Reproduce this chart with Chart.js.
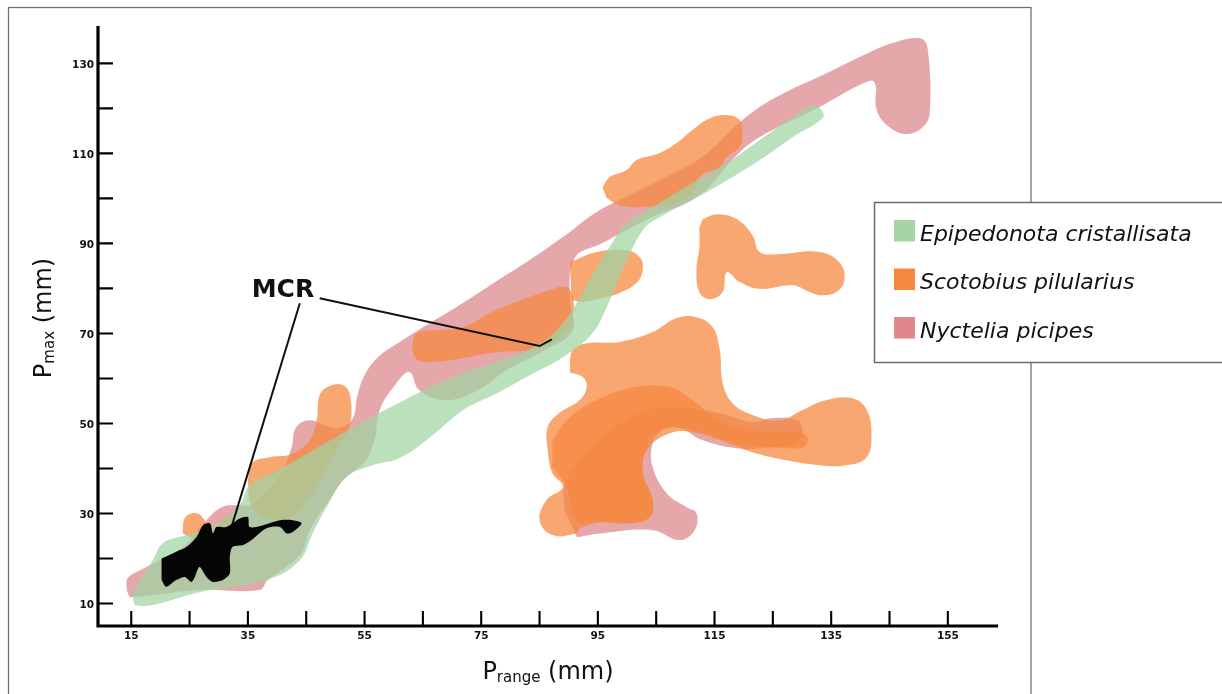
<!DOCTYPE html>
<html>
<head>
<meta charset="utf-8">
<script src="https://cdn.jsdelivr.net/npm/chart.js@4.4.1/dist/chart.umd.min.js"></script>
<style>
  html, body { margin: 0; padding: 0; background: #fff; }
  canvas { display: block; }
</style>
</head>
<body>
<canvas id="myChart" width="1222" height="694"></canvas>
<script>
// axis ticks
const xTicks = [15, 25, 35, 45, 55, 65, 75, 85, 95, 105, 115, 125, 135, 145, 155];
const xTickLabels = ["15", "", "35", "", "55", "", "75", "", "95", "", "115", "", "135", "", "155"];
const yTicks = [10, 20, 30, 40, 50, 60, 70, 80, 90, 100, 110, 120, 130];
const yTickLabels = ["10", "", "30", "", "50", "", "70", "", "90", "", "110", "", "130"];

const species = ["Epipedonota cristallisata", "Scotobius pilularius", "Nyctelia picipes"];

// Epipedonota cristallisata (green) - outline [Prange, Pmax]
const epiBand = [[15.6,9.6],[15.3,12.1],[16.5,15.2],[18.7,19.6],[20.4,23.4],[24.5,25.2],[29.3,27.4],[33.6,31.8],
  [35.3,36.3],[39.6,39.2],[43.9,42.3],[51.9,48.3],[60.5,54.3],[68.4,59.4],[77.7,63.8],[85.0,67.6],[89.0,72.3],
  [91.9,78.0],[94.8,84.7],[97.0,89.2],[99.9,94.5],[105.6,99.0],[111.2,103.4],[117.1,107.8],[122.7,112.9],
  [128.4,118.1],[131.8,120.7],[133.4,119.6],[133.5,117.8],[128.4,113.6],[122.7,108.5],[114.2,101.8],
  [105.6,95.8],[103.0,93.4],[100.4,87.4],[96.5,75.8],[94.1,70.1],[89.0,64.7],[83.3,60.7],[77.7,56.7],
  [71.8,52.9],[66.2,46.9],[61.0,42.3],[56.4,40.7],[51.9,38.1],[48.5,31.4],[46.1,25.6],[43.9,19.6],
  [38.2,15.2],[26.7,12.5],[19.9,10.0],[17.3,9.4]];

// Nyctelia picipes (pink)
const nycBand = [[14.2,13.0],[14.4,15.6],[16.5,17.4],[19.9,19.6],[24.2,22.9],[27.6,28.1],[30.5,31.4],[33.6,31.8],
  [35.3,31.8],[37.4,34.1],[40.5,38.5],[42.5,44.7],[43.2,49.0],[45.6,50.7],[49.9,49.0],[52.8,50.7],[53.8,56.3],
  [55.0,60.7],[57.3,64.7],[60.7,67.8],[66.2,72.3],[71.8,76.7],[77.6,81.6],[83.3,86.3],[89.0,91.4],[94.8,97.0],
  [100.4,100.7],[107.3,105.2],[113.3,109.6],[119.8,117.4],[125.6,122.5],[134.2,127.8],[139.9,131.4],
  [145.5,134.5],[150.2,135.6],[151.5,133.6],[151.9,119.0],[150.7,115.8],[147.9,114.3],[145.0,115.8],
  [142.8,119.6],[142.4,125.8],[139.9,125.2],[133.0,120.3],[122.7,113.6],[118.8,109.6],[112.4,100.7],
  [103.9,95.6],[95.8,90.1],[91.0,86.7],[90.2,77.4],[90.7,70.7],[85.9,66.3],[79.9,62.3],[73.9,57.0],
  [68.7,55.2],[64.4,57.4],[62.7,61.4],[60.2,58.5],[57.6,53.0],[56.7,46.3],[55.0,41.4],[51.6,37.8],
  [49.0,33.0],[45.6,26.3],[43.9,20.7],[38.4,15.2],[37.0,13.0],[26.7,13.0],[18.2,11.8],[14.7,11.4]];
const nycLoop = [[91.4,24.7],[95.8,25.6],[104.4,26.3],[109.0,24.1],[111.6,26.3],[111.9,30.1],[110.2,31.4],
  [106.8,34.5],[104.4,40.3],[104.4,45.6],[106.1,48.5],[109.0,49.0],[112.9,46.3],[118.8,44.5],[125.0,44.7],
  [129.1,45.6],[130.1,48.5],[129.1,50.7],[125.0,51.2],[121.5,50.3],[115.9,52.3],[109.0,53.6],[103.4,53.0],
  [99.6,50.7],[95.3,46.3],[91.9,41.8],[89.3,36.3],[89.3,30.7]];

// Scotobius pilularius (orange)
const scoKnobA = [[23.8,25.6],[24.2,29.0],[25.9,30.1],[27.3,29.0],[27.9,26.3],[25.9,24.1]];
const scoKnobB = [[30.2,28.1],[32.2,29.2],[33.3,26.7],[30.5,25.4]];
const scoStep = [[35.0,37.4],[35.7,41.2],[38.7,42.5],[42.5,43.2],[45.6,46.3],[46.8,50.7],[47.3,56.3],
  [49.0,58.3],[51.3,58.5],[52.5,56.3],[52.5,49.6],[50.7,45.2],[48.5,40.0],[45.5,33.5],[43.0,29.5],
  [40.0,28.6],[37.0,29.6],[35.2,33.0]];
const scoMid = [[63.1,66.3],[63.9,70.1],[67.4,70.7],[71.8,71.4],[77.6,75.2],[83.3,78.1],[86.7,79.6],
  [89.6,80.3],[90.7,78.1],[90.7,73.6],[89.6,70.7],[86.7,67.8],[83.3,66.3],[77.6,65.8],[71.8,64.5],
  [66.2,63.6],[63.9,64.1]];
const scoNotch = [[90.2,85.8],[94.8,88.1],[99.9,88.5],[102.2,86.9],[102.7,84.1],[101.6,81.2],[98.7,79.0],
  [95.8,77.9],[92.4,77.0],[90.5,77.4]];
const scoUpper = [[95.8,102.5],[97.0,104.7],[99.9,106.3],[101.6,108.5],[105.6,110.1],[108.5,112.3],
  [111.2,115.2],[114.2,117.8],[117.1,118.5],[119.3,117.4],[119.8,114.5],[119.3,111.4],[117.1,109.2],
  [115.9,107.0],[112.4,104.8],[111.2,101.2],[108.5,99.0],[102.7,98.1],[98.7,98.5],[96.5,100.1]];
const scoHook = [[113.0,95.4],[115.4,96.5],[118.8,95.4],[121.5,91.8],[122.7,88.1],[125.6,87.6],[133.0,88.1],
  [136.4,85.8],[137.3,82.1],[135.9,79.2],[133.0,78.5],[131.3,79.2],[128.4,80.7],[122.7,79.9],[119.3,81.4],
  [117.1,83.6],[116.4,79.2],[114.2,77.6],[112.4,79.2],[111.9,84.1],[112.4,89.2],[112.4,93.6]];
const scoBig = [[90.2,64.1],[90.7,66.3],[93.1,67.8],[98.7,68.1],[104.4,70.3],[108.5,73.4],[111.9,73.6],
  [114.7,71.4],[115.9,66.3],[116.4,59.0],[118.1,54.5],[121.5,51.9],[126.2,50.7],[130.1,53.0],[134.2,55.2],
  [138.7,55.6],[141.1,53.0],[141.9,47.8],[141.1,42.5],[137.6,40.7],[133.0,40.7],[127.4,41.8],[121.5,43.6],
  [115.9,46.3],[111.2,48.1],[107.3,47.8],[103.4,44.1],[102.7,39.0],[104.4,33.0],[103.9,29.2],[100.4,27.8],
  [95.8,28.1],[91.9,26.7],[91.4,25.6],[87.2,25.2],[85.0,28.5],[86.2,33.0],[89.0,35.9],[87.2,39.0],
  [86.4,44.1],[86.4,49.2],[88.4,52.3],[91.9,55.2],[93.1,58.1],[92.4,60.3],[90.2,61.4]];
const scoInner = [[87.2,46.3],[90.2,51.4],[95.8,55.8],[101.6,58.1],[107.3,58.1],[111.2,55.2],[115.9,50.7],
  [121.5,48.5],[127.4,48.1],[130.1,47.8],[131.0,46.3],[130.1,44.7],[127.4,44.5],[118.8,45.6],[113.6,47.8],
  [109.0,49.2],[105.6,48.5],[103.4,44.7],[102.7,39.0],[104.4,33.0],[103.9,29.2],[100.4,27.8],[95.8,28.1],
  [91.4,28.5],[89.6,35.9],[87.2,40.3]];

// MCR region (black) and its leader lines
const mcr = [[20.2,20.0],[22.7,21.5],[24.5,22.6],[26.2,24.8],[27.3,27.4],[28.5,27.8],[29.0,25.6],[29.6,27.0],
  [31.3,27.0],[33.6,28.9],[35.0,29.2],[35.3,27.0],[37.6,27.4],[40.5,28.5],[42.7,28.5],[44.2,27.8],[42.7,25.9],
  [41.6,25.6],[40.5,27.0],[38.2,26.7],[35.9,24.4],[34.2,23.0],[32.4,22.6],[31.9,20.4],[31.9,16.7],[30.7,15.2],
  [29.0,14.8],[27.9,15.9],[26.7,18.1],[25.9,15.9],[25.3,14.8],[24.2,15.9],[22.7,15.2],[21.0,13.7],[20.2,15.2]];
const leaderA = [[47.3,77.8],[85.0,67.2],[87.1,68.7]];
const leaderB = [[43.9,76.7],[31.9,25.8]];

const GREEN = "rgba(160,212,162,0.72)";
const ORANGE = "rgba(245,136,63,0.74)";
const PINK = "rgba(220,130,136,0.7)";
const legendColors = ["#a6d5a5", "#f5883e", "#df878b"];

const pts = (arr) => arr.map(p => ({ x: p[0], y: p[1] }));
const blob = (arr, color, tension) => ({
  data: pts(arr),
  showLine: true,
  fill: "shape",
  backgroundColor: color,
  borderWidth: 0,
  pointRadius: 0,
  tension: tension === undefined ? 0.4 : tension,
});
const leader = (arr) => ({
  data: pts(arr),
  showLine: true,
  fill: false,
  borderColor: "#111",
  borderWidth: 2,
  pointRadius: 0,
  tension: 0,
});

// ejes, ticks, textos y leyenda
const decor = {
  id: "decor",
  beforeDraw(chart) {
    const c = chart.ctx;
    c.save();
    c.fillStyle = "#fff";
    c.fillRect(0, 0, chart.width, chart.height);
    c.strokeStyle = "#707070";
    c.lineWidth = 1.3;
    c.strokeRect(8.5, 7.5, 1022.5, 720);
    c.restore();
  },
  afterDatasetsDraw(chart) {
    const c = chart.ctx;
    const a = chart.chartArea;
    const { x, y } = chart.scales;
    c.save();
    c.strokeStyle = "#000";
    c.lineWidth = 3.2;
    c.beginPath();
    c.moveTo(a.left, a.top);
    c.lineTo(a.left, a.bottom + 1.6);
    c.moveTo(a.left - 1.6, a.bottom);
    c.lineTo(a.right, a.bottom);
    c.stroke();
    c.lineWidth = 2.1;
    c.beginPath();
    yTicks.forEach(v => {
      const py = y.getPixelForValue(v);
      c.moveTo(a.left, py);
      c.lineTo(a.left + 15, py);
    });
    xTicks.forEach(v => {
      const px = x.getPixelForValue(v);
      c.moveTo(px, a.bottom);
      c.lineTo(px, a.bottom - 15);
    });
    c.stroke();
    c.fillStyle = "#111";
    c.font = "bold 10.5px 'DejaVu Sans'";
    c.textAlign = "right";
    c.textBaseline = "middle";
    yTicks.forEach((v, i) => {
      if (yTickLabels[i]) c.fillText(yTickLabels[i], a.left - 4, y.getPixelForValue(v) + 1.5);
    });
    c.textAlign = "center";
    xTicks.forEach((v, i) => {
      if (xTickLabels[i]) c.fillText(xTickLabels[i], x.getPixelForValue(v), a.bottom + 10.5);
    });
    c.restore();
  },
  afterDraw(chart) {
    const c = chart.ctx;
    const a = chart.chartArea;
    const { x, y } = chart.scales;
    c.save();
    c.fillStyle = "#111";
    c.textBaseline = "alphabetic";
    c.textAlign = "left";

    // axis titles with subscripts
    const title = (sub) => {
      c.font = "24px 'DejaVu Sans'";
      const wP = c.measureText("P").width;
      const wM = c.measureText(" (mm)").width;
      c.font = "15px 'DejaVu Sans'";
      const wS = c.measureText(sub).width;
      return { wP, wS, wM, total: wP + wS + wM };
    };
    const drawTitle = (sub, t) => {
      c.font = "24px 'DejaVu Sans'";
      c.fillText("P", 0, 0);
      c.font = "15px 'DejaVu Sans'";
      c.fillText(sub, t.wP, 3);
      c.font = "24px 'DejaVu Sans'";
      c.fillText(" (mm)", t.wP + t.wS, 0);
    };
    let t = title("range");
    c.save();
    c.translate((a.left + a.right) / 2 - t.total / 2, 678.5);
    drawTitle("range", t);
    c.restore();
    t = title("max");
    c.save();
    c.translate(51, 318 + t.total / 2);
    c.rotate(-Math.PI / 2);
    drawTitle("max", t);
    c.restore();

    // MCR label
    c.font = "bold 25px 'DejaVu Sans'";
    c.textAlign = "center";
    c.fillText("MCR", x.getPixelForValue(41.0), y.getPixelForValue(78.0));

    // legend
    c.fillStyle = "#fff";
    c.fillRect(874.5, 202.5, 360, 160);
    c.strokeStyle = "#6a6a6a";
    c.lineWidth = 1.5;
    c.strokeRect(874.5, 202.5, 360, 160);
    c.font = "italic 22px 'DejaVu Sans'";
    c.textAlign = "left";
    species.forEach((name, i) => {
      const top = 220 + i * 48.5;
      c.fillStyle = legendColors[i];
      c.fillRect(894, top, 21, 21.5);
      c.fillStyle = "#111";
      c.fillText(name, 920, top + 20.5);
    });
    c.restore();
  },
};

const ctx = document.getElementById("myChart");
new Chart(ctx, {
  type: "scatter",
  data: {
    datasets: [
      blob(mcr, "#050505", 0.3),
      leader(leaderA),
      leader(leaderB),
      blob(epiBand, GREEN),
      blob(scoKnobA, ORANGE),
      blob(scoKnobB, ORANGE),
      blob(scoStep, ORANGE),
      blob(scoMid, ORANGE),
      blob(scoNotch, ORANGE),
      blob(scoUpper, ORANGE),
      blob(scoHook, ORANGE),
      blob(scoInner, ORANGE),
      blob(scoBig, ORANGE),
      blob(nycBand, PINK),
      blob(nycLoop, PINK),
    ],
  },
  options: {
    responsive: false,
    animation: false,
    devicePixelRatio: 1,
    layout: { padding: { left: 98, right: 224, top: 26, bottom: 68 } },
    scales: {
      x: { type: "linear", display: false, min: 9.3, max: 163.6 },
      y: { type: "linear", display: false, min: 5, max: 138.3 },
    },
    plugins: {
      legend: { display: false },
      tooltip: { enabled: false },
    },
  },
  plugins: [decor],
});
</script>
</body>
</html>
